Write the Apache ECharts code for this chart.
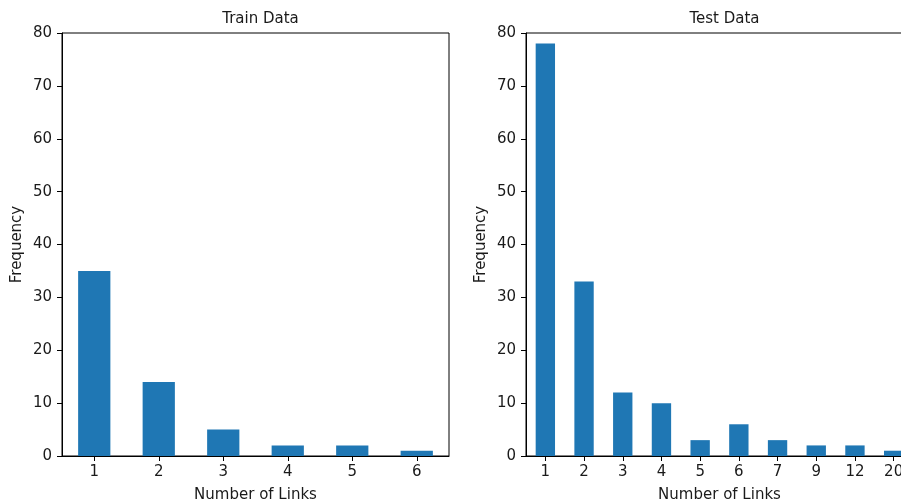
<!DOCTYPE html>
<html>
<head>
<meta charset="utf-8">
<script src="https://cdn.jsdelivr.net/npm/echarts@6/dist/echarts.min.js"></script>
<style>html,body{margin:0;padding:0;background:#fff;}#c{width:901px;height:502px;}</style>
</head>
<body>
<div id="c"></div>
<script>
const trainCategories = ['1','2','3','4','5','6'];
const trainValues = [35, 14, 5, 2, 2, 1];
const testCategories = ['1','2','3','4','5','6','7','9','12','20'];
const testValues = [78, 33, 12, 10, 3, 6, 3, 2, 2, 1];
const yTicks = {min: 0, max: 80, interval: 10};
const titles = ['Train Data', 'Test Data'];

const FONT = 'DejaVu Sans';
const FS = 15;
const TXT = '#1a1a1a';
const chart = echarts.init(document.getElementById('c'), null, {renderer: 'canvas'});

function xAxis(idx, cats) {
  return {
    type: 'category', gridIndex: idx, data: cats,
    boundaryGap: true,
    name: 'Number of Links', nameLocation: 'middle', nameGap: 32,
    nameTextStyle: {fontFamily: FONT, fontSize: FS, color: TXT},
    axisLine: {show: true, lineStyle: {color: '#000', width: 1}},
    axisTick: {show: true, alignWithLabel: true, length: 5, lineStyle: {color: '#000'}},
    axisLabel: {fontFamily: FONT, fontSize: FS, color: TXT, margin: 9, interval: 0},
    splitLine: {show: false}
  };
}
function yAxis(idx) {
  return {
    type: 'value', gridIndex: idx, min: yTicks.min, max: yTicks.max, interval: yTicks.interval,
    name: 'Frequency', nameLocation: 'middle', nameGap: 37,
    nameTextStyle: {fontFamily: FONT, fontSize: FS, color: TXT},
    axisLine: {show: true, lineStyle: {color: '#000', width: 1}},
    axisTick: {show: true, length: 5, lineStyle: {color: '#000'}},
    axisLabel: {fontFamily: FONT, fontSize: FS, color: TXT, margin: 10},
    splitLine: {show: false}
  };
}

chart.setOption({
  animation: false,
  backgroundColor: '#fff',
  title: [
    {text: titles[0], left: 255.5, top: 7, textAlign: 'center',
     textStyle: {fontFamily: FONT, fontSize: FS, fontWeight: 'normal', color: TXT}},
    {text: titles[1], left: 719.5, top: 7, textAlign: 'center',
     textStyle: {fontFamily: FONT, fontSize: FS, fontWeight: 'normal', color: TXT}}
  ],
  grid: [
    {left: 62, top: 33, width: 387, height: 423, show: true, borderColor: '#000', borderWidth: 1,
     containLabel: false, outerBoundsMode: 'none'},
    {left: 526, top: 33, width: 387, height: 423, show: true, borderColor: '#000', borderWidth: 1,
     containLabel: false, outerBoundsMode: 'none'}
  ],
  xAxis: [xAxis(0, trainCategories), xAxis(1, testCategories)],
  yAxis: [yAxis(0), yAxis(1)],
  series: [
    {type: 'bar', xAxisIndex: 0, yAxisIndex: 0, data: trainValues, barWidth: '50%',
     itemStyle: {color: '#1f77b4'}},
    {type: 'bar', xAxisIndex: 1, yAxisIndex: 1, data: testValues, barWidth: '50%',
     itemStyle: {color: '#1f77b4'}}
  ]
});
</script>
</body>
</html>
